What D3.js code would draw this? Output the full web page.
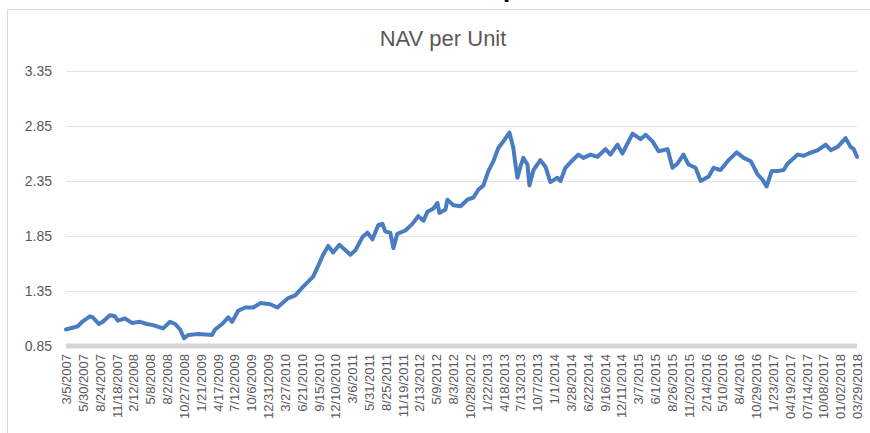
<!DOCTYPE html>
<html>
<head>
<meta charset="utf-8">
<script src="https://cdn.jsdelivr.net/npm/d3@7"></script>
<style>
  body { margin: 0; background: #fff; }
  svg { display: block; }
</style>
</head>
<body>
<div id="chart"></div>
<script>
// Data
var tickLabels = ["3/5/2007", "5/30/2007", "8/24/2007", "11/18/2007", "2/12/2008", "5/8/2008",
    "8/2/2008", "10/27/2008", "1/21/2009", "4/17/2009", "7/12/2009", "10/6/2009", "12/31/2009",
    "3/27/2010", "6/21/2010", "9/15/2010", "12/10/2010", "3/6/2011", "5/31/2011", "8/25/2011",
    "11/19/2011", "2/13/2012", "5/9/2012", "8/3/2012", "10/28/2012", "1/22/2013", "4/18/2013",
    "7/13/2013", "10/7/2013", "1/1/2014", "3/28/2014", "6/22/2014", "9/16/2014", "12/11/2014",
    "3/7/2015", "6/1/2015", "8/26/2015", "11/20/2015", "2/14/2016", "5/10/2016", "8/4/2016",
    "10/29/2016", "1/23/2017", "04/19/2017", "07/14/2017", "10/08/2017", "01/02/2018", "03/29/2018"];

var yTicks = [0.85, 1.35, 1.85, 2.35, 2.85, 3.35];

var navDates = ["2007-03-05", "2007-05-05", "2007-05-26", "2007-07-05", "2007-07-20", "2007-08-20",
    "2007-09-09", "2007-10-15", "2007-11-10", "2007-11-25", "2007-12-31", "2008-02-05",
    "2008-03-17", "2008-04-22", "2008-05-23", "2008-07-13", "2008-08-18", "2008-09-13",
    "2008-10-08", "2008-10-29", "2008-11-18", "2009-01-08", "2009-03-20", "2009-04-05",
    "2009-05-11", "2009-06-11", "2009-07-01", "2009-08-01", "2009-09-06", "2009-10-17",
    "2009-11-22", "2010-01-12", "2010-02-17", "2010-04-09", "2010-05-19", "2010-06-29",
    "2010-08-19", "2010-09-14", "2010-10-09", "2010-11-04", "2010-11-29", "2010-12-31",
    "2011-02-25", "2011-03-23", "2011-04-28", "2011-05-23", "2011-06-18", "2011-07-18",
    "2011-08-08", "2011-08-23", "2011-09-17", "2011-10-03", "2011-10-23", "2011-12-03",
    "2012-01-08", "2012-02-07", "2012-03-05", "2012-03-25", "2012-04-25", "2012-05-15",
    "2012-05-25", "2012-06-25", "2012-07-05", "2012-08-05", "2012-09-10", "2012-10-15",
    "2012-11-15", "2012-12-10", "2013-01-05", "2013-01-30", "2013-02-25", "2013-03-22",
    "2013-04-17", "2013-05-18", "2013-06-07", "2013-06-17", "2013-06-28", "2013-07-13",
    "2013-07-28", "2013-08-18", "2013-08-28", "2013-09-18", "2013-10-23", "2013-11-18",
    "2013-12-13", "2014-01-18", "2014-02-03", "2014-02-28", "2014-03-26", "2014-05-05",
    "2014-05-31", "2014-07-06", "2014-08-11", "2014-09-21", "2014-10-16", "2014-11-21",
    "2014-12-16", "2015-02-06", "2015-03-19", "2015-04-14", "2015-05-19", "2015-06-19",
    "2015-08-04", "2015-08-29", "2015-09-24", "2015-10-24", "2015-11-19", "2015-12-25",
    "2016-01-20", "2016-03-01", "2016-03-26", "2016-05-01", "2016-06-11", "2016-07-22",
    "2016-08-27", "2016-10-02", "2016-11-06", "2016-12-02", "2016-12-22", "2017-01-17",
    "2017-02-17", "2017-03-19", "2017-04-09", "2017-05-30", "2017-06-30", "2017-07-25",
    "2017-09-10", "2017-10-20", "2017-11-15", "2017-12-20", "2018-01-30", "2018-02-24",
    "2018-03-12", "2018-03-29"];

var navValues = [1.00, 1.03, 1.07, 1.12, 1.11, 1.05,
    1.07, 1.13, 1.12, 1.08, 1.10, 1.06,
    1.07, 1.05, 1.04, 1.01, 1.07, 1.05,
    1.00, 0.92, 0.95, 0.96, 0.95, 1.00,
    1.05, 1.11, 1.07, 1.17, 1.20, 1.20,
    1.24, 1.23, 1.20, 1.28, 1.31, 1.39,
    1.48, 1.58, 1.68, 1.76, 1.70, 1.77,
    1.68, 1.72, 1.84, 1.88, 1.82, 1.95,
    1.96, 1.89, 1.88, 1.74, 1.87, 1.90,
    1.96, 2.03, 1.99, 2.07, 2.10, 2.15,
    2.06, 2.09, 2.18, 2.13, 2.12, 2.18,
    2.20, 2.27, 2.31, 2.44, 2.53, 2.65,
    2.71, 2.79, 2.65, 2.51, 2.38, 2.48,
    2.56, 2.50, 2.31, 2.45, 2.54, 2.48,
    2.34, 2.38, 2.35, 2.47, 2.52, 2.59,
    2.56, 2.59, 2.57, 2.64, 2.59, 2.68,
    2.60, 2.78, 2.73, 2.77, 2.71, 2.62,
    2.64, 2.47, 2.51, 2.59, 2.50, 2.47,
    2.35, 2.39, 2.47, 2.45, 2.54, 2.61,
    2.56, 2.53, 2.41, 2.36, 2.30, 2.44,
    2.44, 2.45, 2.51, 2.59, 2.58, 2.60,
    2.63, 2.68, 2.63, 2.66, 2.74, 2.66,
    2.64, 2.57];

// Layout
var width = 870, height = 433;
var plotLeft = 66, plotRight = 857, plotTop = 71, plotBottom = 346;

var parseIso = d3.timeParse("%Y-%m-%d");
var parseLabel = d3.timeParse("%m/%d/%Y");

var points = navDates.map(function(d, i) {
    return {date: parseIso(d), value: navValues[i]};
});
var tickDates = tickLabels.map(function(d) { return parseLabel(d); });

var svg = d3.select("#chart").append("svg")
    .attr("width", width)
    .attr("height", height);

// Chart frame
svg.append("rect")
    .attr("x", 7.5)
    .attr("y", 9.5)
    .attr("width", 900)
    .attr("height", 500)
    .attr("fill", "#fff")
    .attr("stroke", "#d9d9d9");

// Cut-off heading above the chart (only its descender shows)
svg.append("text")
    .attr("x", 503)
    .attr("y", -3)
    .attr("font-family", "Liberation Sans, sans-serif")
    .attr("font-weight", "bold")
    .attr("font-size", 26)
    .attr("fill", "#000")
    .text("p");

var x = d3.scaleTime()
    .domain([tickDates[0], tickDates[tickDates.length - 1]])
    .range([plotLeft, plotRight]);

var y = d3.scaleLinear()
    .domain([0.85, 3.35])
    .range([plotBottom, plotTop]);

// Gridlines
svg.append("g")
    .selectAll("line")
    .data(yTicks.slice(1))
    .enter()
    .append("line")
    .attr("x1", plotLeft)
    .attr("x2", plotRight)
    .attr("y1", function(d) { return Math.round(y(d)) + 0.5; })
    .attr("y2", function(d) { return Math.round(y(d)) + 0.5; })
    .attr("stroke", "#e3e3e3")
    .attr("stroke-width", 1);

// Y axis labels
var yAxis = d3.axisLeft(y)
    .tickValues(yTicks)
    .tickFormat(d3.format(".2f"))
    .tickSize(0)
    .tickPadding(14);

var yAxisG = svg.append("g")
    .attr("transform", "translate(" + plotLeft + ",0)")
    .call(yAxis);
yAxisG.select(".domain").remove();
yAxisG.selectAll("text")
    .attr("font-family", "Liberation Sans, sans-serif")
    .attr("font-size", 14)
    .attr("fill", "#595959");

// Horizontal axis (thick grey bar)
svg.append("line")
    .attr("x1", plotLeft)
    .attr("x2", plotRight)
    .attr("y1", plotBottom)
    .attr("y2", plotBottom)
    .attr("stroke", "#d6d6d6")
    .attr("stroke-width", 5);

// X axis labels
var xAxis = d3.axisBottom(x)
    .tickValues(tickDates)
    .tickFormat(function(d, i) { return tickLabels[i]; })
    .tickSize(0)
    .tickPadding(0);

var xAxisG = svg.append("g")
    .attr("transform", "translate(0," + (plotBottom + 8) + ")")
    .call(xAxis);
xAxisG.select(".domain").remove();
xAxisG.selectAll("text")
    .attr("font-family", "Liberation Sans, sans-serif")
    .attr("font-size", 13)
    .attr("fill", "#595959")
    .attr("text-anchor", "end")
    .attr("dy", "0.35em")
    .attr("transform", "rotate(-90)")
    .attr("y", 0)
    .attr("x", 0);

// NAV line
var line = d3.line()
    .x(function(d) { return x(d.date); })
    .y(function(d) { return y(d.value); });

svg.append("path")
    .datum(points)
    .attr("d", line)
    .attr("fill", "none")
    .attr("stroke", "#4a7cc1")
    .attr("stroke-width", 4)
    .attr("stroke-linejoin", "round")
    .attr("stroke-linecap", "round");

// Title
svg.append("text")
    .attr("x", 443)
    .attr("y", 46)
    .attr("text-anchor", "middle")
    .attr("font-family", "Liberation Sans, sans-serif")
    .attr("font-size", 22)
    .attr("fill", "#595959")
    .text("NAV per Unit");
</script>
</body>
</html>
